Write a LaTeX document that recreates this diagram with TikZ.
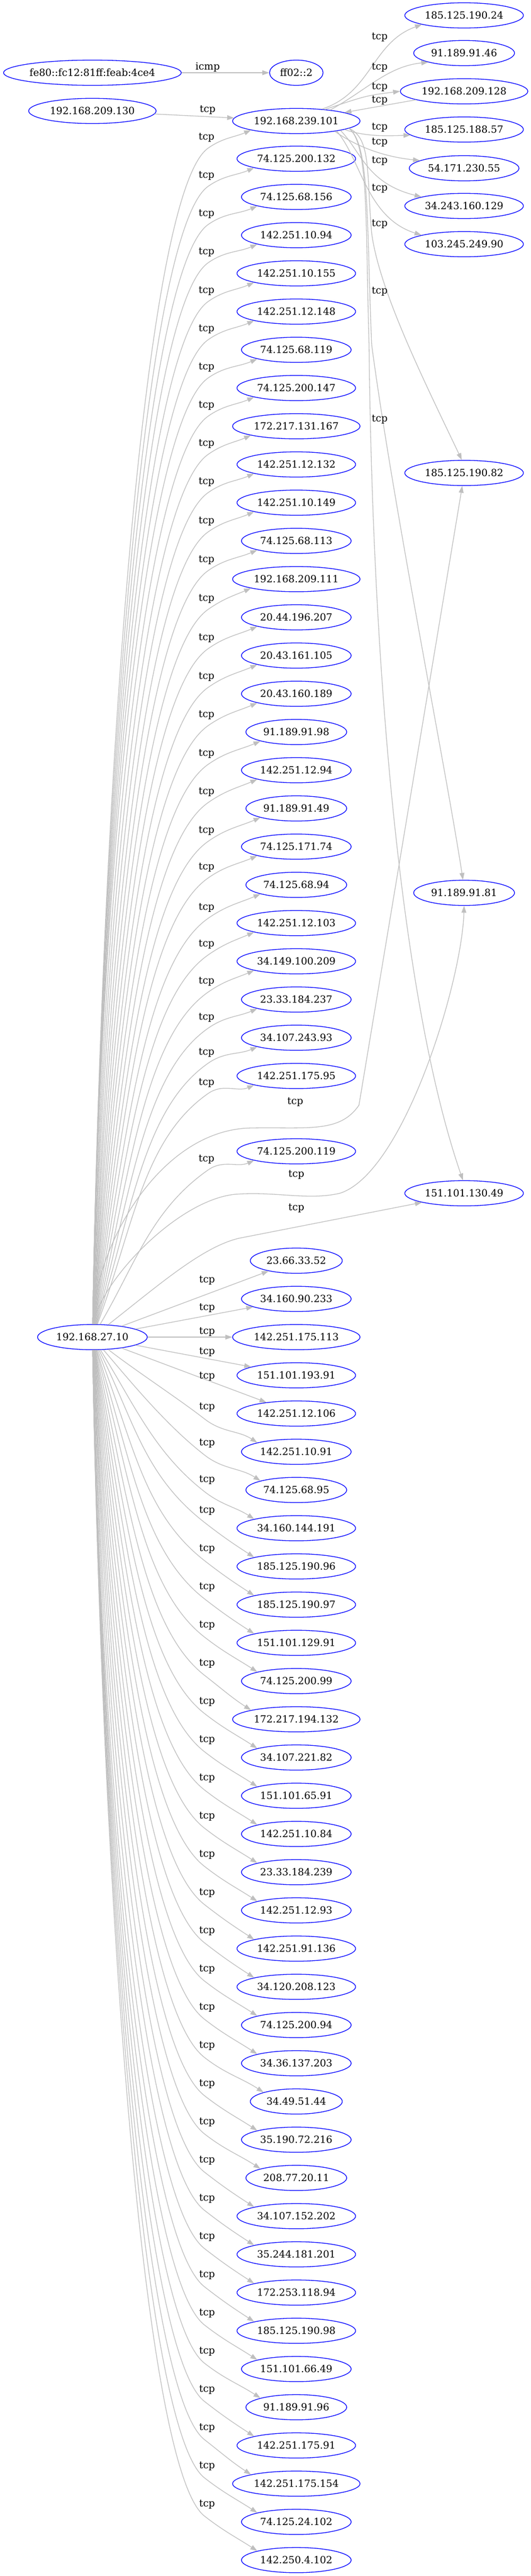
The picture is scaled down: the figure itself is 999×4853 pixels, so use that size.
\documentclass[tikz,border=0pt]{standalone}
\usepackage{fontspec}
\setmainfont{DejaVu Serif}
\usetikzlibrary{shapes.geometric,arrows.meta,calc}

\tikzset{
    host/.style={ellipse, draw=blue, line width=1.3pt, inner xsep=5pt, inner ysep=2pt,
        minimum height=47.5pt, text height=13.5pt, text depth=0pt},
    link/.style={draw=gray!50, line width=1.3pt, -{Triangle[length=13pt,width=9pt]}},
    proto/.style={inner sep=0pt, text height=13pt, text depth=4pt},
}

\begin{document}
\begin{tikzpicture}[x=1pt, y=1pt, font=\fontsize{18.6}{22}\selectfont]
    \useasboundingbox (0,0) rectangle (999,-4853);
    % sources
    \node[host, inner xsep=0pt] (fe80) at (174,-137) {fe80::fc12:81ff:feab:4ce4};
    \node[host] (h130) at (174,-209) {192.168.209.130};
    \node[host] (h10) at (174,-2519) {192.168.27.10};
    % middle rank
    \node[host] (ff02) at (558,-137) {ff02::2};
    \node[host] (h101) at (558,-228) {192.168.239.101};
    \foreach \ip [count=\k from 0] in {74.125.200.132,74.125.68.156,142.251.10.94,142.251.10.155,
        142.251.12.148,74.125.68.119,74.125.200.147,172.217.131.167,142.251.12.132,142.251.10.149,
        74.125.68.113,192.168.209.111,20.44.196.207,20.43.161.105,20.43.160.189,91.189.91.98,
        142.251.12.94,91.189.91.49,74.125.171.74,74.125.68.94,142.251.12.103,34.149.100.209,
        23.33.184.237,34.107.243.93,142.251.175.95}
        \node[host] (a\k) at (558,-299-72*\k) {\ip};
    \node[host] (a25) at (558,-2169) {74.125.200.119};
    \foreach \ip [count=\j from 0] in {23.66.33.52,34.160.90.233,142.251.175.113,151.101.193.91,
        142.251.12.106,142.251.10.91,74.125.68.95,34.160.144.191,185.125.190.96,185.125.190.97,
        151.101.129.91,74.125.200.99,172.217.194.132,34.107.221.82,151.101.65.91,142.251.10.84,
        23.33.184.239,142.251.12.93,142.251.91.136,34.120.208.123,74.125.200.94,34.36.137.203,
        34.49.51.44,35.190.72.216,208.77.20.11,34.107.152.202,35.244.181.201,172.253.118.94,
        185.125.190.98,151.101.66.49,91.189.91.96,142.251.175.91,142.251.175.154,74.125.24.102,
        142.250.4.102}
        \node[host] (b\j) at (558,-2375-72*\j) {\ip};
    % right rank
    \foreach \ip/\yy [count=\r] in {185.125.190.24/29,91.189.91.46/100,192.168.209.128/172,
        185.125.188.57/244,54.171.230.55/317,34.243.160.129/388,103.245.249.90/460,
        185.125.190.82/891,91.189.91.81/1682,151.101.130.49/2248}
        \node[host] (r\r) at (874,-\yy) {\ip};

    % short links on top
    \draw[link] (fe80) -- (ff02);
    \node[proto] (l-icmp) at (391,-127) {icmp};
    \draw[link] (h130) -- (h101);
    \node[proto] (l-h130) at (391,-207) {tcp};

    % 192.168.27.10 fanning upwards
    \foreach \tgt/\yy/\dd in {h101/228/31,a0/299/32,a1/371/32,a2/443/32,a3/515/33,a4/587/33,
        a5/659/33,a6/731/33,a7/803/33,a8/875/33,a9/947/35,a10/1019/36,a11/1091/37,a12/1163/39,
        a13/1235/40,a14/1307/40,a15/1379/41,a16/1451/41,a17/1523/42,a18/1595/39,a19/1667/43,
        a20/1739/40,a21/1811/38,a22/1883/34,a23/1955/28,a24/2027/13,a25/2169/15} {
        \pgfmathsetmacro\yl{\yy+\dd}
        \pgfmathsetmacro\yp{\yl+20}
        \pgfmathsetmacro\dl{2496-\yp}
        \pgfmathsetmacro\ang{min(atan2(\dl,216)+6,89)}
        \pgfmathsetmacro\od{0.45*\dl}
        \pgfmathsetmacro\idist{min(150,\od)}
        \draw[link] (h10.\ang) .. controls ($(h10.\ang)+(\ang:\od)$) and ($(392,-\yp)+(215:\idist)$)
            .. (392,-\yp) to[out=35, in=203] (\tgt.south west);
        \node[proto] (l-\tgt) at (389,-\yl) {tcp};
    }
    % 192.168.27.10 straight links
    \foreach \j/\yl in {0/2412,1/2464,2/2509,3/2547,4/2593} {
        \draw[link] (h10) -- (b\j);
        \node[proto] (l-b\j) at (390,-\yl) {tcp};
    }
    % 192.168.27.10 fanning downwards
    \foreach \j in {5,...,34} {
        \pgfmathsetmacro\yl{2375+72*\j+(\j<6 ? -84 : (\j<7 ? -88 : (\j<8 ? -91 : -105)))}
        \pgfmathsetmacro\yp{\yl+22}
        \pgfmathsetmacro\dl{\yp-2542}
        \pgfmathsetmacro\ang{max(-atan2(\dl,209)-6,-89)}
        \pgfmathsetmacro\od{0.45*\dl}
        \pgfmathsetmacro\idist{min(150,\od)}
        \draw[link] (h10.\ang) .. controls ($(h10.\ang)+(\ang:\od)$) and ($(385,-\yp)+(142:\idist)$)
            .. (385,-\yp) to[out=-38, in=147] (b\j.north west);
        \node[proto] (l-b\j) at (390,-\yl) {tcp};
    }
    % 192.168.27.10 to the right rank
    \draw[link] (h10) .. controls (178,-2350) and (300,-2127) .. (474,-2125)
        .. controls (580,-2123) and (640,-2135) .. (676,-2082) -- (r8.-98);
    \node[proto] (l-r8) at (556,-2076) {tcp};
    \draw[link] (h10) .. controls (185,-2420) and (330,-2262) .. (442,-2250)
        .. controls (520,-2244) and (580,-2262) .. (640,-2248)
        .. controls (760,-2210) and (870,-1850) .. (r9.south);
    \node[proto] (l-r9) at (558,-2213) {tcp};
    \draw[link] (h10) .. controls (300,-2420) and (380,-2350) .. (449,-2333) -- (r10.south west);
    \node[proto] (l-r10) at (558,-2276) {tcp};

    % 192.168.239.101 to the right rank
    \draw[link] (h101.25) .. controls (700,-175) and (700,-80) .. (r1.south west);
    \node[proto] (m1) at (715,-70) {tcp};
    \draw[link] (h101.18) .. controls (690,-170) and (730,-125) .. (r2.south west);
    \node[proto] (m2) at (715,-127) {tcp};
    \draw[link] (h101.22) .. controls (690,-180) .. (r3.west);
    \node[proto] (m3) at (715,-164) {tcp};
    \draw[link] (r3) -- (h101);
    \node[proto] (m4) at (715,-189) {tcp};
    \draw[link] (h101.-10) .. controls (690,-258) and (730,-256) .. (r4.186);
    \node[proto] (m5) at (715,-240) {tcp};
    \draw[link] (h101.-15) .. controls (670,-275) and (720,-295) .. (r5.170);
    \node[proto] (m6) at (715,-268) {tcp};
    \draw[link] (h101.-12) .. controls (680,-285) and (690,-345) .. (r6.168);
    \node[proto] (m7) at (715,-303) {tcp};
    \draw[link] (h101.-14) .. controls (680,-300) and (690,-410) .. (r7.168);
    \node[proto] (m8) at (715,-355) {tcp};
    \draw[link] (h101.-8) .. controls (700,-260) and (690,-330) .. (700,-440)
        .. controls (715,-550) and (800,-720) .. (r8.100);
    \node[proto] (m9) at (715,-422) {tcp};
    \draw[link] (h101.-8) .. controls (697,-270) and (690,-420) .. (700,-650)
        .. controls (740,-950) and (840,-1450) .. (r9.95);
    \node[proto] (m10) at (715,-549) {tcp};
    \draw[link] (h101.-8) .. controls (695,-270) and (688,-420) .. (695,-650)
        .. controls (702,-1300) and (760,-1900) .. (r10.95);
    \node[proto] (m11) at (715,-790) {tcp};
\end{tikzpicture}
\end{document}
